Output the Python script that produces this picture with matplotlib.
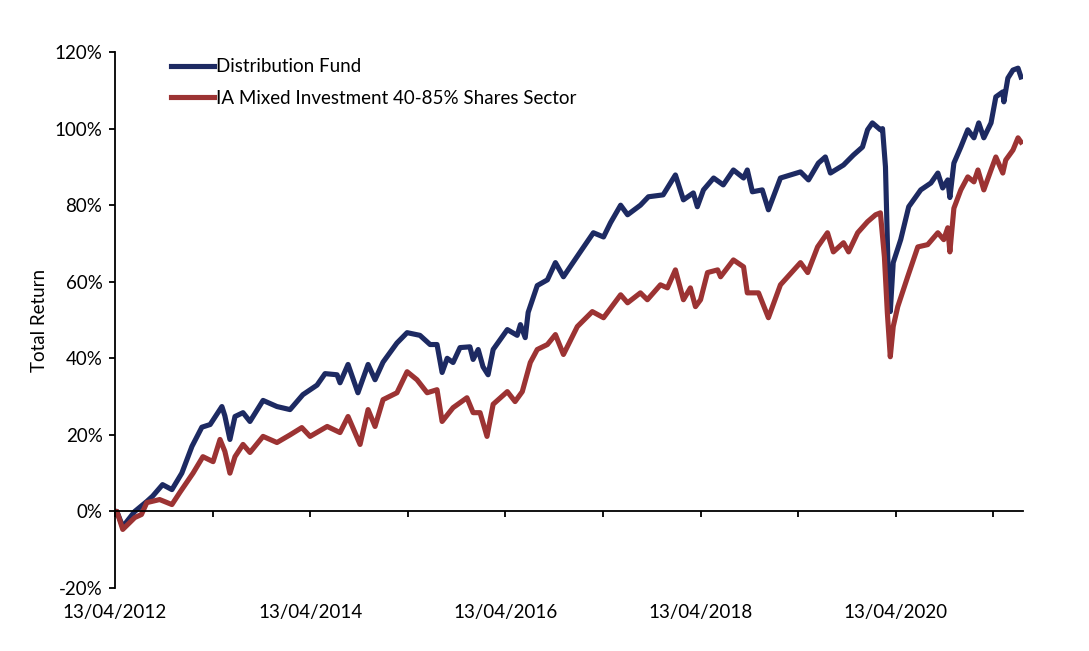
import matplotlib
matplotlib.use("Agg")
import matplotlib.pyplot as plt
import matplotlib.ticker as mticker
import pandas as pd

plt.rcParams['font.family'] = ['Lato', 'DejaVu Sans']

fund_dates = ['2012-04-13', '2012-04-20', '2012-05-12', '2012-06-26', '2012-08-10', '2012-09-01',
              '2012-10-08', '2012-11-12', '2012-12-19', '2013-01-26', '2013-03-04', '2013-04-04',
              '2013-05-18', '2013-05-29', '2013-06-17', '2013-07-06', '2013-08-05', '2013-08-31',
              '2013-10-19', '2013-12-10', '2014-01-28', '2014-03-17', '2014-05-09', '2014-06-08',
              '2014-07-23', '2014-08-03', '2014-09-02', '2014-10-09', '2014-11-16', '2014-12-12',
              '2015-01-11', '2015-03-04', '2015-04-11', '2015-05-29', '2015-07-06', '2015-08-01',
              '2015-08-20', '2015-09-08', '2015-09-30', '2015-10-26', '2015-12-02', '2015-12-14',
              '2016-01-02', '2016-01-20', '2016-02-08', '2016-02-27', '2016-04-20', '2016-05-27',
              '2016-06-08', '2016-06-26', '2016-07-07', '2016-08-10', '2016-09-17', '2016-10-17',
              '2016-11-16', '2016-12-12', '2017-01-18', '2017-03-08', '2017-04-15', '2017-05-11',
              '2017-06-18', '2017-07-14', '2017-08-31', '2017-09-30', '2017-11-24', '2018-01-09',
              '2018-02-08', '2018-03-17', '2018-04-01', '2018-04-24', '2018-06-01', '2018-07-07',
              '2018-08-14', '2018-09-21', '2018-10-05', '2018-10-24', '2018-11-30', '2018-12-23',
              '2019-02-06', '2019-04-22', '2019-05-22', '2019-06-28', '2019-07-24', '2019-08-12',
              '2019-09-30', '2019-11-06', '2019-12-10', '2019-12-29', '2020-01-16', '2020-02-15',
              '2020-02-23', '2020-03-05', '2020-03-16', '2020-03-23', '2020-04-03', '2020-05-01',
              '2020-05-31', '2020-07-15', '2020-08-22', '2020-09-17', '2020-10-05', '2020-10-24',
              '2020-11-01', '2020-11-16', '2020-12-12', '2021-01-07', '2021-01-30', '2021-02-17',
              '2021-03-08', '2021-04-04', '2021-04-22', '2021-05-18', '2021-05-22', '2021-06-06',
              '2021-06-25', '2021-07-14', '2021-07-25']
fund_values = [0, 0, -4, 0, 2.6, 4,
               7, 5.7, 10, 17, 22, 22.7,
               27.4, 25, 18.8, 24.8, 25.8, 23.5,
               29, 27.4, 26.6, 30.5, 33, 36,
               35.7, 33.6, 38.4, 31, 38.4, 34.4,
               39, 44, 46.7, 46, 43.6, 43.6,
               36.3, 40, 38.9, 42.8, 43, 39.7,
               42.3, 37.8, 35.7, 42.3, 47.5, 46,
               48.8, 45.4, 52, 59, 60.5, 65,
               61.3, 64, 67.8, 72.8, 71.7, 75.4,
               80, 77.5, 80, 82.2, 82.7, 87.9,
               81.4, 83.2, 79.6, 84, 87.1, 85.3,
               89.2, 87.1, 89.2, 83.5, 84, 78.8,
               87.1, 88.7, 86.6, 91, 92.6, 88.4,
               90.5, 93.1, 95.2, 99.7, 101.5, 99.7,
               100, 90, 59.7, 52.2, 65, 71,
               79.6, 84, 85.8, 88.4, 84.5, 86.6,
               82, 91, 95.2, 99.7, 97.6, 101.5,
               97.6, 101.5, 108.3, 109.6, 107, 113.2,
               115.3, 115.8, 113.5]

sector_dates = ['2012-04-13', '2012-04-20', '2012-05-12', '2012-06-26', '2012-07-21', '2012-08-10',
                '2012-09-27', '2012-11-12', '2012-12-12', '2013-01-30', '2013-03-08', '2013-04-15',
                '2013-05-11', '2013-05-29', '2013-06-17', '2013-07-06', '2013-08-05', '2013-08-31',
                '2013-10-19', '2013-12-10', '2014-01-28', '2014-03-13', '2014-04-13', '2014-06-16',
                '2014-08-03', '2014-09-02', '2014-10-17', '2014-11-16', '2014-12-12', '2015-01-11',
                '2015-03-04', '2015-04-11', '2015-05-18', '2015-06-25', '2015-08-01', '2015-08-20',
                '2015-09-30', '2015-11-21', '2015-12-14', '2016-01-09', '2016-02-04', '2016-02-27',
                '2016-04-20', '2016-05-19', '2016-06-15', '2016-07-15', '2016-08-10', '2016-09-17',
                '2016-10-17', '2016-11-16', '2017-01-07', '2017-03-04', '2017-04-15', '2017-06-18',
                '2017-07-14', '2017-08-31', '2017-09-26', '2017-11-14', '2017-12-10', '2018-01-09',
                '2018-02-08', '2018-03-06', '2018-03-25', '2018-04-13', '2018-05-09', '2018-06-16',
                '2018-06-27', '2018-08-14', '2018-09-21', '2018-10-05', '2018-11-16', '2018-12-23',
                '2019-02-06', '2019-04-22', '2019-05-19', '2019-06-25', '2019-08-01', '2019-08-23',
                '2019-09-30', '2019-10-19', '2019-11-22', '2019-12-29', '2020-01-28', '2020-02-15',
                '2020-03-01', '2020-03-12', '2020-03-23', '2020-04-03', '2020-04-20', '2020-05-27',
                '2020-07-04', '2020-08-10', '2020-09-17', '2020-10-09', '2020-10-24', '2020-11-01',
                '2020-11-16', '2020-12-12', '2021-01-07', '2021-01-30', '2021-02-14', '2021-03-08',
                '2021-04-04', '2021-04-22', '2021-05-18', '2021-05-29', '2021-06-25', '2021-07-14',
                '2021-07-25']
sector_values = [0, 0, -4.7, -1.6, -0.8, 2.3,
                 3.1, 1.8, 5, 10, 14.3, 13,
                 18.8, 15.7, 10, 14.3, 17.5, 15.4,
                 19.6, 18, 20, 21.9, 19.6, 22.2,
                 20.6, 24.8, 17.5, 26.6, 22.2, 29.2,
                 31, 36.5, 34.4, 31, 31.8, 23.5,
                 27.1, 29.7, 25.8, 25.8, 19.6, 28,
                 31.3, 28.7, 31.3, 38.9, 42.3, 43.6,
                 46.2, 41, 48.3, 52.2, 50.6, 56.6,
                 54.5, 57.1, 55.3, 59.2, 58.4, 63.1,
                 55.3, 58.4, 53.5, 55.3, 62.4, 63.1,
                 61.3, 65.7, 63.9, 57.1, 57.1, 50.6,
                 59.2, 65, 62.4, 69.1, 72.8, 67.8,
                 70.2, 67.8, 72.8, 75.7, 77.5, 78,
                 66.5, 51.9, 40.4, 48.3, 53.5, 61.3,
                 69.1, 69.7, 72.8, 71, 74.1, 67.8,
                 79.2, 84, 87.4, 86.1, 89.2, 84,
                 89.2, 92.6, 88.4, 91.8, 94.4, 97.6,
                 96.5]

series_names = ['Distribution Fund', 'IA Mixed Investment 40-85% Shares Sector']
tick_dates = ['2012-04-13', '2013-04-13', '2014-04-13', '2015-04-13', '2016-04-13',
              '2017-04-13', '2018-04-13', '2019-04-13', '2020-04-13', '2021-04-13']
y_ticks = [-20, 0, 20, 40, 60, 80, 100, 120]

fig = plt.figure(figsize=(10.89, 6.51), dpi=100)
ax = fig.add_axes([0.1056, 0.0968, 0.8334, 0.8232])

ax.plot(pd.to_datetime(fund_dates), fund_values, color='#1d2a62', lw=3.7,
        solid_joinstyle='round', label=series_names[0])
ax.plot(pd.to_datetime(sector_dates), sector_values, color='#9c3333', lw=3.7,
        solid_joinstyle='round', label=series_names[1])

ax.set_ylim(-20, 120)
ax.set_yticks(y_ticks)
ax.yaxis.set_major_formatter(mticker.FuncFormatter(lambda v, p: f'{v:.0f}%'))
ax.set_xlim(pd.Timestamp('2012-04-13'), pd.Timestamp('2021-07-31'))

ticks = pd.to_datetime(tick_dates)
ax.set_xticks(ticks)
ax.set_xticklabels([t.strftime('%d/%m/%Y') if i % 2 == 0 else '' for i, t in enumerate(ticks)])

ax.spines['top'].set_visible(False)
ax.spines['right'].set_visible(False)
ax.spines['bottom'].set_position(('data', 0))
ax.spines['left'].set_linewidth(1.3)
ax.spines['bottom'].set_linewidth(1.3)
ax.tick_params(axis='both', direction='out', length=4, width=1.3, labelsize=13.5, colors='black')
ax.tick_params(axis='x', pad=63)
ax.tick_params(axis='y', pad=5)

ax.set_ylabel('Total Return', fontsize=13.5, labelpad=5)

ax.legend(loc='upper left', bbox_to_anchor=(0.043, 1.02), frameon=False, fontsize=13.5,
          handlelength=2.3, handletextpad=0.1, labelspacing=0.78)

fig.savefig('out.png', dpi=100)
